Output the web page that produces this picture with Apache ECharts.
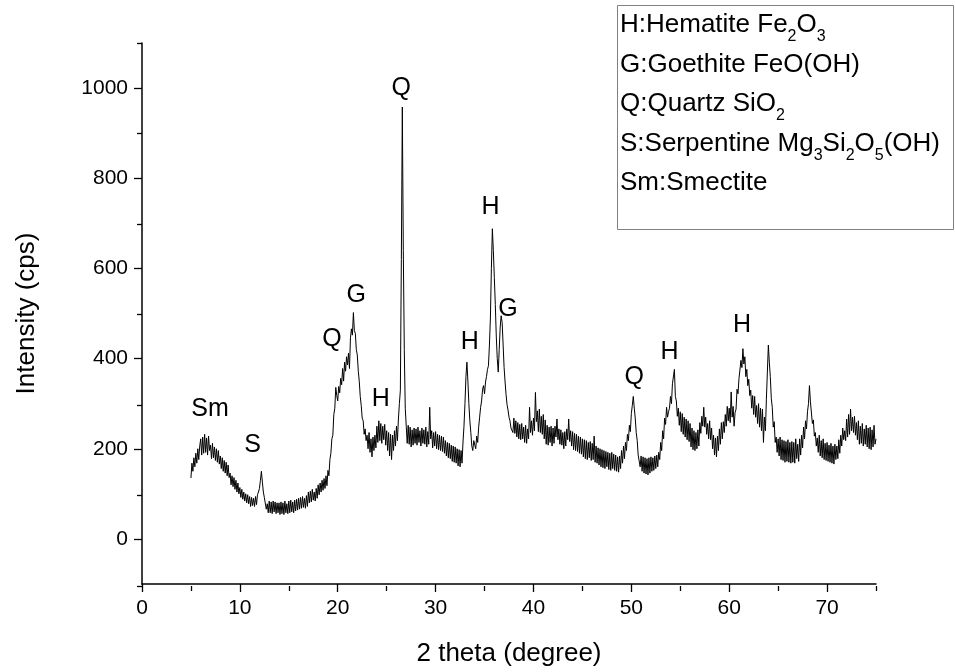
<!DOCTYPE html>
<html>
<head>
<meta charset="utf-8">
<script src="https://cdn.jsdelivr.net/npm/echarts@6/dist/echarts.min.js"></script>
<style>
  html, body { margin: 0; padding: 0; background: #fff; }
  #chart { width: 955px; height: 672px; }
</style>
</head>
<body>
<div id="chart"></div>
<script>
// scan grid: 2theta from 5 to 75 deg, step 0.1
const scanStart = 5;
const scanStep = 0.1;

// intensity (cps), one row per degree (x.0 ... x.9)
const intensity = [
  135, 168, 150, 180, 160, 190, 168, 200, 176, 206,   // 5
  222, 186, 226, 190, 232, 192, 224, 186, 228, 196,   // 6
  208, 178, 212, 180, 204, 174, 200, 170, 196, 166,   // 7
  184, 156, 180, 150, 174, 146, 170, 140, 164, 136,   // 8
  146, 120, 140, 116, 136, 110, 130, 104, 124, 100,   // 9
  114, 92, 110, 88, 104, 84, 100, 80, 98, 78,         // 10
  94, 72, 92, 74, 90, 72, 94, 76, 98, 104,            // 11
  112, 130, 150, 126, 104, 92, 88, 66, 78, 58,        // 12
  84, 58, 82, 56, 84, 60, 82, 56, 80, 58,             // 13
  80, 54, 82, 56, 80, 54, 84, 58, 78, 56,             // 14
  84, 58, 86, 60, 82, 58, 86, 62, 88, 64,             // 15
  90, 66, 92, 68, 94, 70, 90, 68, 96, 72,             // 16
  104, 80, 106, 82, 110, 86, 104, 84, 112, 90,        // 17
  120, 98, 124, 104, 130, 108, 134, 112, 140, 118,    // 18
  152, 140, 176, 190, 222, 230, 276, 290, 336, 318,   // 19
  306, 338, 324, 356, 342, 378, 350, 392, 372, 404,   // 20
  386, 412, 378, 446, 466, 452, 502, 462, 456, 420,   // 21
  408, 372, 350, 316, 296, 268, 262, 232, 244, 218,   // 22
  230, 200, 236, 192, 222, 182, 226, 196, 230, 202,   // 23
  250, 214, 262, 218, 256, 212, 250, 220, 254, 208,   // 24
  240, 196, 236, 184, 232, 176, 230, 196, 240, 206,   // 25
  250, 218, 266, 300, 330, 620, 958, 640, 420, 290,   // 26
  250, 212, 252, 210, 248, 204, 242, 208, 246, 212,   // 27
  244, 208, 248, 214, 240, 206, 246, 212, 242, 210,   // 28
  248, 204, 238, 210, 292, 222, 240, 202, 236, 206,   // 29
  238, 200, 232, 198, 230, 196, 228, 194, 226, 190,   // 30
  218, 184, 214, 180, 212, 178, 208, 172, 206, 170,   // 31
  204, 168, 200, 162, 198, 160, 196, 168, 215, 250,   // 32
  300, 360, 392, 350, 300, 262, 236, 206, 196, 218,   // 33
  222, 200, 228, 214, 248, 270, 292, 306, 332, 340,   // 34
  322, 348, 360, 376, 384, 430, 490, 600, 688, 640,   // 35
  580, 520, 450, 400, 370, 420, 470, 495, 480, 430,   // 36
  380, 348, 320, 298, 286, 270, 262, 246, 248, 236,   // 37
  268, 234, 262, 226, 258, 222, 254, 220, 256, 222,   // 38
  248, 214, 252, 212, 244, 222, 292, 236, 262, 230,   // 39
  268, 240, 325, 260, 284, 238, 288, 236, 272, 232,   // 40
  276, 222, 264, 210, 252, 208, 248, 214, 250, 206,   // 41
  246, 212, 250, 226, 266, 220, 244, 210, 242, 208,   // 42
  236, 200, 238, 206, 244, 220, 266, 216, 240, 206,   // 43
  238, 198, 234, 196, 232, 194, 228, 190, 226, 188,   // 44
  222, 182, 220, 178, 218, 176, 214, 180, 216, 174,   // 45
  212, 176, 228, 170, 206, 168, 202, 164, 200, 160,   // 46
  198, 158, 196, 156, 194, 160, 192, 154, 190, 152,   // 47
  192, 156, 188, 152, 186, 150, 182, 148, 184, 156,   // 48
  196, 168, 206, 178, 214, 196, 232, 218, 252, 238,   // 49
  278, 296, 316, 290, 268, 236, 218, 186, 184, 160,   // 50
  184, 150, 182, 146, 180, 144, 178, 142, 180, 146,   // 51
  182, 150, 180, 152, 184, 156, 186, 160, 192, 176,   // 52
  214, 196, 240, 222, 268, 254, 292, 270, 282, 290,   // 53
  316, 300, 344, 340, 376, 316, 306, 272, 290, 252,   // 54
  282, 238, 278, 232, 270, 226, 266, 220, 262, 216,   // 55
  256, 204, 246, 198, 240, 196, 236, 200, 242, 206,   // 56
  258, 234, 272, 250, 292, 248, 270, 232, 256, 222,   // 57
  262, 220, 246, 200, 230, 186, 224, 182, 228, 196,   // 58
  244, 210, 258, 222, 260, 236, 276, 250, 294, 262,   // 59
  290, 258, 326, 270, 294, 250, 280, 288, 332, 322,   // 60
  356, 360, 396, 380, 422, 388, 404, 360, 376, 340,   // 61
  354, 318, 330, 290, 318, 276, 316, 270, 296, 256,   // 62
  300, 248, 290, 240, 288, 214, 270, 240, 310, 370,   // 63
  430, 392, 360, 312, 292, 248, 260, 214, 226, 192,   // 64
  222, 184, 226, 176, 220, 174, 218, 170, 216, 172,   // 65
  220, 170, 214, 168, 216, 170, 214, 168, 222, 178,   // 66
  210, 172, 222, 186, 230, 202, 248, 222, 262, 244,   // 67
  282, 300, 340, 304, 300, 256, 264, 228, 236, 206,   // 68
  224, 192, 230, 184, 218, 180, 222, 176, 212, 174,   // 69
  214, 172, 208, 170, 212, 168, 206, 166, 210, 176,   // 70
  206, 178, 220, 190, 230, 206, 246, 220, 240, 218,   // 71
  266, 226, 276, 232, 288, 240, 270, 236, 272, 230,   // 72
  258, 220, 262, 210, 250, 212, 256, 206, 244, 210,   // 73
  252, 204, 246, 200, 248, 198, 242, 204, 252, 210,   // 74
  222                                                 // 75
];

// peak labels: phase letter, 2theta, intensity where the letter sits
const peakNames = ['Sm', 'S', 'Q', 'G', 'H', 'Q', 'H', 'H', 'G', 'Q', 'H', 'H'];
const peakTheta = [6.95, 11.3, 19.4, 21.9, 24.4, 26.5, 33.5, 35.6, 37.4, 50.3, 53.9, 61.3];
const peakLevel = [289, 208, 444, 541, 311, 1000, 437, 735, 510, 358, 415, 475];

// axis ticks
const xMajor = [0, 10, 20, 30, 40, 50, 60, 70];
const xMinor = [5, 15, 25, 35, 45, 55, 65, 75];
const yMajor = [0, 200, 400, 600, 800, 1000];
const yMinor = [-100, 100, 300, 500, 700, 900, 1100];

// legend lines (phase key)
const phaseKey = [
  '{m|H:Hematite Fe}{s|2}{m|O}{s|3}',
  '{m|G:Goethite FeO(OH)}',
  '{m|Q:Quartz SiO}{s|2}',
  '{m|S:Serpentine Mg}{s|3}{m|Si}{s|2}{m|O}{s|5}{m|(OH)}',
  '{m|Sm:Smectite}'
];

const font = '"Liberation Sans", Arial, sans-serif';
const chart = echarts.init(document.getElementById('chart'));

const scanData = intensity.map((v, i) => [+(scanStart + i * scanStep).toFixed(1), v]);
const labelData = peakNames.map((n, i) => ({ name: n, value: [peakTheta[i], peakLevel[i]] }));

const gridBox = { left: 142, right: 79, top: 43, bottom: 86 };
const tickLine = { color: '#000', width: 1.3 };

chart.setOption({
  backgroundColor: '#fff',
  animation: false,
  grid: [
    Object.assign({}, gridBox),
    Object.assign({}, gridBox)
  ],
  xAxis: [
    {
      type: 'value', gridIndex: 0, min: 0, max: 75, interval: 5,
      name: '2 theta (degree)', nameLocation: 'middle', nameGap: 57,
      nameTextStyle: { fontFamily: font, fontSize: 26, color: '#000' },
      axisLine: { onZero: false, lineStyle: { color: '#000', width: 1.5 } },
      axisTick: { customValues: xMajor, length: 8, lineStyle: tickLine },
      axisLabel: { customValues: xMajor, margin: 14, fontFamily: font, fontSize: 21, color: '#000' },
      splitLine: { show: false }
    },
    {
      type: 'value', gridIndex: 1, min: 0, max: 75, interval: 5,
      axisLine: { show: false, onZero: false },
      axisTick: { customValues: xMinor, length: 5, lineStyle: tickLine },
      axisLabel: { show: false },
      splitLine: { show: false }
    }
  ],
  yAxis: [
    {
      type: 'value', gridIndex: 0, min: -100, max: 1100, interval: 100,
      name: 'Intensity (cps)', nameLocation: 'middle', nameGap: 102,
      nameTextStyle: { fontFamily: font, fontSize: 26, color: '#000' },
      axisLine: { show: true, onZero: false, lineStyle: { color: '#000', width: 1.5 } },
      axisTick: { show: true, customValues: yMajor, length: 8, lineStyle: tickLine },
      axisLabel: {
        customValues: yMajor, margin: 14, fontFamily: font, fontSize: 21, color: '#000',
        formatter: (v) => String(v)
      },
      splitLine: { show: false }
    },
    {
      type: 'value', gridIndex: 1, min: -100, max: 1100, interval: 100,
      axisLine: { show: false, onZero: false },
      axisTick: { show: true, customValues: yMinor, length: 5, lineStyle: tickLine },
      axisLabel: { show: false },
      splitLine: { show: false }
    }
  ],
  series: [
    {
      type: 'line',
      xAxisIndex: 0, yAxisIndex: 0,
      data: scanData,
      showSymbol: false,
      sampling: null,
      lineStyle: { color: '#000', width: 1 },
      z: 3
    },
    {
      type: 'scatter',
      xAxisIndex: 0, yAxisIndex: 0,
      data: labelData,
      symbolSize: 2,
      itemStyle: { color: '#fff', opacity: 1 },
      label: {
        show: true, position: 'inside', formatter: '{b}',
        fontFamily: font, fontSize: 25, color: '#000', opacity: 1,
        textBorderWidth: 0
      },
      z: 4
    }
  ],
  graphic: [
    {
      type: 'rect', left: 617, top: 5,
      shape: { width: 336, height: 224 },
      style: { fill: '#fff', stroke: '#808080', lineWidth: 1 }
    },
    {
      type: 'text', left: 620, top: 12,
      style: {
        text: phaseKey.join('\n'),
        fill: '#000',
        rich: {
          m: { fontFamily: font, fontSize: 26, lineHeight: 39.5, verticalAlign: 'middle', fill: '#000' },
          s: { fontFamily: font, fontSize: 16, lineHeight: 6, verticalAlign: 'bottom', fill: '#000' }
        }
      }
    }
  ]
});
</script>
</body>
</html>
